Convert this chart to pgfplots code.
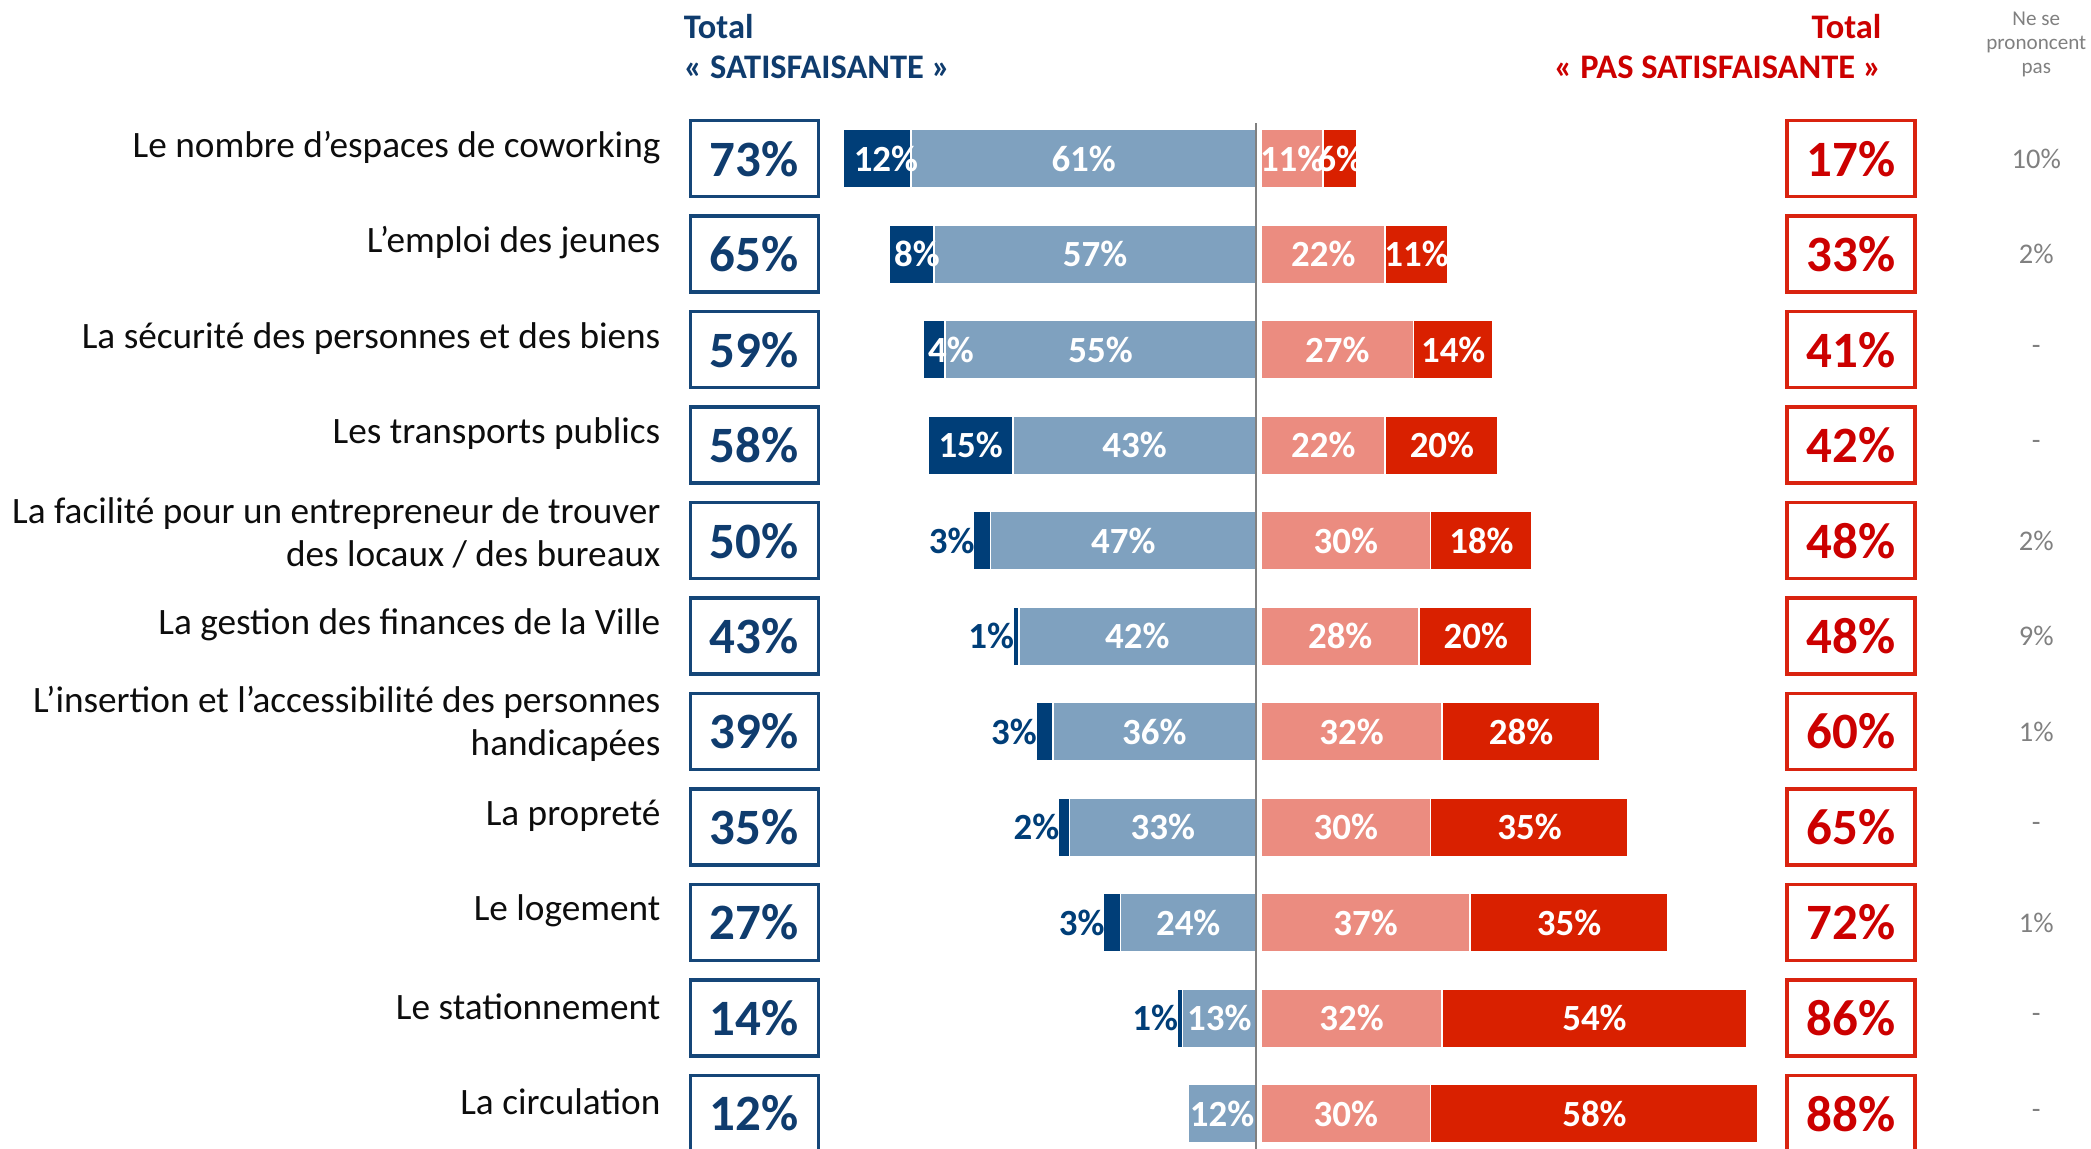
\documentclass[border=0pt]{standalone}
\usepackage{fontspec}
\setmainfont{Carlito}
\usepackage{pgfplots}
\usepackage{pgfplotstable}
\pgfplotsset{compat=1.18}

\definecolor{dblue}{RGB}{0,62,120}
\definecolor{lblue}{RGB}{127,161,191}
\definecolor{salmon}{RGB}{235,140,128}
\definecolor{dred}{RGB}{217,32,0}
\definecolor{boxblue}{RGB}{21,70,120}
\definecolor{txtblue}{RGB}{15,60,110}
\definecolor{boxred}{RGB}{217,35,15}
\definecolor{txtred}{RGB}{204,0,0}
\definecolor{nsp}{RGB}{128,128,128}

% row, tres satisf., plutot satisf., plutot pas, pas du tout, totals
% dkx: where the label of the dark blue segment sits
\pgfplotstableread{
row dk lb sa rd ts tp dkx
1  12 61 11  6 73 17 -65.5
2   8 57 22 11 65 33 -60
3   4 55 27 14 59 41 -54
4  15 43 22 20 58 42 -50.5
5   3 47 30 18 50 48 -49.7
6   1 42 28 20 43 48 -42.7
7   3 36 32 28 39 60 -38.7
8   2 33 30 35 35 65 -34.7
9   3 24 37 35 27 72 -26.7
10  1 13 32 54 14 86 -13.7
11  0 12 30 58 12 88 0
}\data

\pgfplotsset{base/.style={
  x=0.0565cm, y=0.955cm, y dir=reverse,
  xmin=-222.3, xmax=147.8, ymin=-0.662, ymax=11.37,
  hide axis, clip=false, /pgf/number format/assume math mode=true},
  barax/.style={base, xbar stacked, bar width=0.587cm},
  lbl/.style={draw=none, nodes near coords={\pgfmathprintnumber{\pgfplotspointmeta}\%},
    point meta=explicit, nodes near coords align=center,
    every node near coord/.append style={font=\bfseries\fontsize{10.5}{12}\selectfont, text=white, inner sep=0pt}}}

\begin{document}
\begin{tikzpicture}
\useasboundingbox (0,0) rectangle (20.911cm,11.49cm);
% satisfied side
\begin{axis}[barax]
\addplot[fill=lblue, draw=white, line width=0.5pt] table[x expr=-\thisrow{lb}, y=row] {\data};
\addplot[fill=dblue, draw=white, line width=0.5pt] table[x expr=-\thisrow{dk}, y=row] {\data};
\end{axis}
% not satisfied side
\begin{axis}[barax, xshift=0.05cm]
\addplot[fill=salmon, draw=white, line width=0.5pt] table[x=sa, y=row] {\data};
\addplot[fill=dred, draw=white, line width=0.5pt] table[x=rd, y=row] {\data};
\end{axis}
% labels, boxes, text
\begin{axis}[base]
\addplot[draw=nsp, line width=0.45pt] coordinates {(0,0.63) (0,11.37)};
\addplot[lbl] table[x expr=-\thisrow{lb}/2, y=row, meta=lb] {\data};
\addplot[lbl, restrict y to domain=1:4] table[x=dkx, y=row, meta=dk] {\data};
\addplot[lbl, restrict y to domain=5:10, nodes near coords align=east,
  every node near coord/.append style={text=dblue}]
  table[x=dkx, y=row, meta=dk] {\data};
\addplot[lbl] table[x expr=\thisrow{sa}/2+0.9, y=row, meta=sa] {\data};
\addplot[lbl] table[x expr=\thisrow{sa}+\thisrow{rd}/2+0.9, y=row, meta=rd] {\data};
% total boxes
\addplot[lbl, every node near coord/.append style={draw=boxblue, line width=0.95pt,
  minimum width=1.28cm, minimum height=0.76cm, text=txtblue, font=\bfseries\fontsize{14.5}{16}\selectfont}]
  table[x expr=-88.8, y=row, meta=ts] {\data};
\addplot[lbl, every node near coord/.append style={draw=boxred, line width=0.95pt,
  minimum width=1.28cm, minimum height=0.76cm, text=txtred, font=\bfseries\fontsize{14.5}{16}\selectfont}]
  table[x expr=105.3, y=row, meta=tp] {\data};
% ne se prononcent pas
\addplot[draw=none, nodes near coords, point meta=explicit symbolic, nodes near coords align=center,
  every node near coord/.append style={text=nsp, font=\fontsize{8.1}{10}\selectfont}]
  coordinates {(138.1,1) [10\%] (138.1,2) [2\%] (138.1,3) [-] (138.1,4) [-] (138.1,5) [2\%]
  (138.1,6) [9\%] (138.1,7) [1\%] (138.1,8) [-] (138.1,9) [1\%] (138.1,10) [-] (138.1,11) [-]};

\begin{scope}[font=\fontsize{10.6}{12.1}\selectfont, text=black!95, inner xsep=0pt]
\node[anchor=east, align=right] at (axis cs:-105.3,0.88) {Le nombre d’espaces de coworking};
\node[anchor=east, align=right] at (axis cs:-105.3,1.88) {L’emploi des jeunes};
\node[anchor=east, align=right] at (axis cs:-105.3,2.88) {La sécurité des personnes et des biens};
\node[anchor=east, align=right] at (axis cs:-105.3,3.88) {Les transports publics};
\node[anchor=east, align=right] at (axis cs:-105.3,4.92) {La facilité pour un entrepreneur de trouver\\des locaux / des bureaux};
\node[anchor=east, align=right] at (axis cs:-105.3,5.88) {La gestion des finances de la Ville};
\node[anchor=east, align=right] at (axis cs:-105.3,6.92) {L’insertion et l’accessibilité des personnes\\handicapées};
\node[anchor=east, align=right] at (axis cs:-105.3,7.88) {La propreté};
\node[anchor=east, align=right] at (axis cs:-105.3,8.88) {Le logement};
\node[anchor=east, align=right] at (axis cs:-105.3,9.88) {Le stationnement};
\node[anchor=east, align=right] at (axis cs:-105.3,10.88) {La circulation};
\end{scope}

\begin{scope}[font=\bfseries\fontsize{9.8}{12}\selectfont, inner xsep=0pt]
\node[anchor=west, text=txtblue] at (axis cs:-101.4,-0.38) {Total};
\node[anchor=west, text=txtblue] at (axis cs:-101.4,0.04) {«~SATISFAISANTE~»};
\node[anchor=east, text=txtred] at (axis cs:110.8,-0.38) {Total};
\node[anchor=east, text=txtred] at (axis cs:110.8,0.04) {«~PAS SATISFAISANTE~»};
\end{scope}
\node[align=center, text=nsp, font=\fontsize{6}{6.8}\selectfont] at (axis cs:138.1,-0.2) {Ne se\\prononcent\\pas};
\end{axis}
\end{tikzpicture}
\end{document}
